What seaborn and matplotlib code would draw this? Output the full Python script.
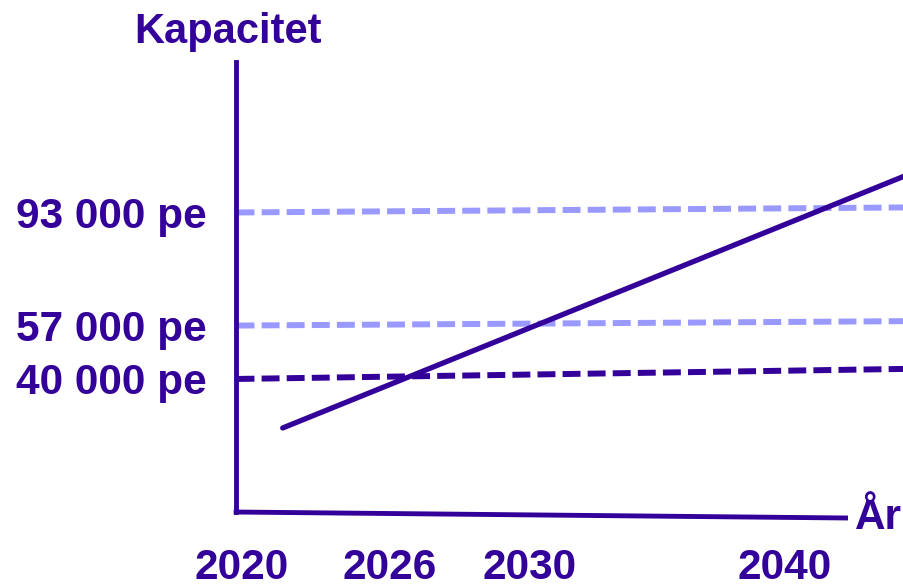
import matplotlib
matplotlib.use("Agg")
import matplotlib.pyplot as plt
import seaborn as sns
import pandas as pd

# ---- data ----
trend_years = [2021.5, 2044.4]
trend_capacity = [24400, 104600]

level_labels = ["40 000 pe", "57 000 pe", "93 000 pe"]
level_start = [40000, 57000, 93000]
level_end = [43200, 58400, 94600]
level_years = [2019.8, 2044.4]

x_tick_labels = ["2020", "2026", "2030", "2040"]
x_tick_pos = [2020, 2025.45, 2030.6, 2040]

DARK = "#330099"
LIGHT = "#9999FF"

sns.set_theme(style="white")
plt.rcParams["font.family"] = ["Liberation Sans", "DejaVu Sans"]

W, H = 904, 588
fig = plt.figure(figsize=(W / 100, H / 100), dpi=100)
ax = fig.add_axes([236 / W, (H - 512) / H, (W - 236) / W, (512 - 62) / H])

rows = []
for lab, s, e in zip(level_labels, level_start, level_end):
    rows.append({"series": lab, "year": level_years[0], "cap": s})
    rows.append({"series": lab, "year": level_years[1], "cap": e})
levels = pd.DataFrame(rows)
trend = pd.DataFrame({"year": trend_years, "cap": trend_capacity})

colors = {level_labels[0]: DARK, level_labels[1]: LIGHT, level_labels[2]: LIGHT}
for lab in level_labels:
    d = levels[levels["series"] == lab]
    sns.lineplot(data=d, x="year", y="cap", ax=ax, color=colors[lab],
                 linewidth=4.3, dashes=False, legend=False, clip_on=False)
    ax.lines[-1].set_dashes([3.0, 1.2])
    ax.lines[-1].set_dash_capstyle("butt")

sns.lineplot(data=trend, x="year", y="cap", ax=ax, color=DARK,
             linewidth=3.8, legend=False, clip_on=False)

ax.set_xlim(2019.78, 2044.38)
ax.set_ylim(-2350, 140900)

# axes styling
for s in ["top", "right", "bottom"]:
    ax.spines[s].set_visible(False)
ax.spines["left"].set_color(DARK)
ax.spines["left"].set_linewidth(3.5)
ax.plot([-0.0035, (848 - 236) / (W - 236)], [0, -6 / 450], transform=ax.transAxes,
        color=DARK, linewidth=3.5, clip_on=False, solid_capstyle="butt")

ax.set_yticks(level_start)
ax.set_yticklabels(level_labels)
ax.set_xticks(x_tick_pos)
ax.set_xticklabels(x_tick_labels)
ax.tick_params(axis="y", length=0, pad=21, labelsize=30.5, labelcolor=DARK)
ax.tick_params(axis="x", length=0, pad=26, labelsize=30.5, labelcolor=DARK)
for t in ax.get_xticklabels() + ax.get_yticklabels():
    t.set_fontweight("bold")
ax.set_xlabel("")
ax.set_ylabel("")

fig.text(228 / W, 1 - 32 / H, "Kapacitet", ha="center", va="center",
         fontsize=30, fontweight="bold", color=DARK)
fig.text(855 / W, 1 - 518 / H, "År", ha="left", va="center",
         fontsize=30.5, fontweight="bold", color=DARK)

fig.savefig("out.png", dpi=100)
